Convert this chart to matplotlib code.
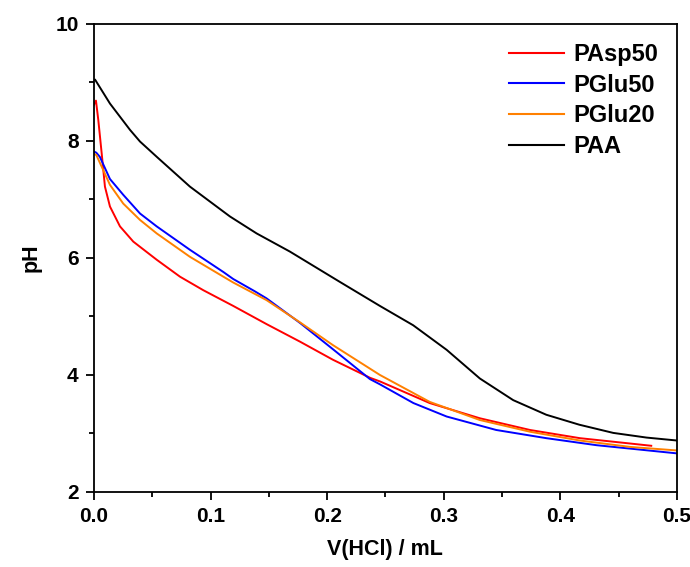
import matplotlib
matplotlib.use("Agg")
import matplotlib.pyplot as plt
from matplotlib.ticker import MultipleLocator, FormatStrFormatter

plt.rcParams['font.family'] = ['Liberation Sans', 'DejaVu Sans']
plt.rcParams['font.weight'] = 'bold'

# ---- data ----
pasp50_x = [0.0, 0.0017, 0.0037, 0.0066, 0.0094, 0.0137, 0.0223, 0.0337, 0.0538, 0.0738,
            0.0937, 0.1195, 0.148, 0.1767, 0.205, 0.237, 0.2453, 0.288, 0.331, 0.374,
            0.4168, 0.478]
pasp50_y = [8.62, 8.69, 8.36, 7.79, 7.22, 6.88, 6.54, 6.28, 5.97, 5.68,
            5.45, 5.18, 4.87, 4.57, 4.26, 3.95, 3.89, 3.52, 3.26, 3.06,
            2.92, 2.79]

pglu50_x = [0.0, 0.002, 0.005, 0.0137, 0.0251, 0.0395, 0.0538, 0.0823, 0.111, 0.1195,
            0.138, 0.148, 0.1767, 0.205, 0.2367, 0.2453, 0.274, 0.3025, 0.345, 0.388,
            0.431, 0.5]
pglu50_y = [7.82, 7.80, 7.73, 7.35, 7.08, 6.76, 6.54, 6.14, 5.76, 5.64,
            5.43, 5.31, 4.89, 4.44, 3.93, 3.84, 3.52, 3.29, 3.06, 2.92,
            2.80, 2.66]

pglu20_x = [0.0, 0.002, 0.008, 0.0137, 0.0251, 0.0395, 0.0538, 0.0823, 0.111, 0.1195,
            0.148, 0.1767, 0.205, 0.2453, 0.288, 0.331, 0.374, 0.4168, 0.46, 0.5]
pglu20_y = [7.78, 7.76, 7.50, 7.25, 6.93, 6.65, 6.42, 6.02, 5.68, 5.58,
            5.28, 4.90, 4.51, 4.00, 3.54, 3.23, 3.03, 2.88, 2.77, 2.71]

paa_x = [0.0, 0.0009, 0.0137, 0.0309, 0.0395, 0.0538, 0.0823, 0.1166, 0.1395, 0.168,
         0.211, 0.2453, 0.2738, 0.3025, 0.331, 0.3596, 0.388, 0.4163, 0.4454, 0.474, 0.5]
paa_y = [9.04, 9.05, 8.64, 8.19, 7.99, 7.73, 7.22, 6.71, 6.42, 6.11,
         5.59, 5.18, 4.85, 4.43, 3.94, 3.57, 3.32, 3.15, 3.01, 2.93, 2.88]

series = [
    ("PAsp50", pasp50_x, pasp50_y, "#ff0000"),
    ("PGlu50", pglu50_x, pglu50_y, "#0000ff"),
    ("PGlu20", pglu20_x, pglu20_y, "#ff8000"),
    ("PAA", paa_x, paa_y, "#000000"),
]

fig = plt.figure(figsize=(6.9, 5.67), dpi=100)
ax = fig.add_axes([0.1362, 0.1323, 0.981 - 0.1362, 0.9577 - 0.1323])

for name, xs, ys, c in series:
    ax.plot(xs, ys, color=c, lw=1.4, label=name, solid_joinstyle='round')

ax.set_xlim(0, 0.5)
ax.set_ylim(2, 10)
ax.xaxis.set_major_locator(MultipleLocator(0.1))
ax.xaxis.set_minor_locator(MultipleLocator(0.05))
ax.yaxis.set_major_locator(MultipleLocator(2))
ax.yaxis.set_minor_locator(MultipleLocator(1))
ax.xaxis.set_major_formatter(FormatStrFormatter('%.1f'))

ax.tick_params(which='both', direction='out', top=False, right=False, width=1.3,
               labelsize=15)
ax.tick_params(which='major', length=6, pad=5)
ax.tick_params(which='minor', length=3.5)
for s in ax.spines.values():
    s.set_linewidth(1.3)

ax.set_xlabel("V(HCl) / mL", fontsize=15.5, fontweight='bold', labelpad=9)
ax.set_ylabel("pH", fontsize=15.5, fontweight='bold', labelpad=10)

leg = ax.legend(loc='upper right', frameon=False, fontsize=17, handlelength=2.3,
                handletextpad=0.4, labelspacing=0.33, borderaxespad=0.4)
for t in leg.get_texts():
    t.set_fontweight('bold')
for h in leg.get_lines():
    h.set_linewidth(1.5)

fig.savefig("out.png", dpi=100)
